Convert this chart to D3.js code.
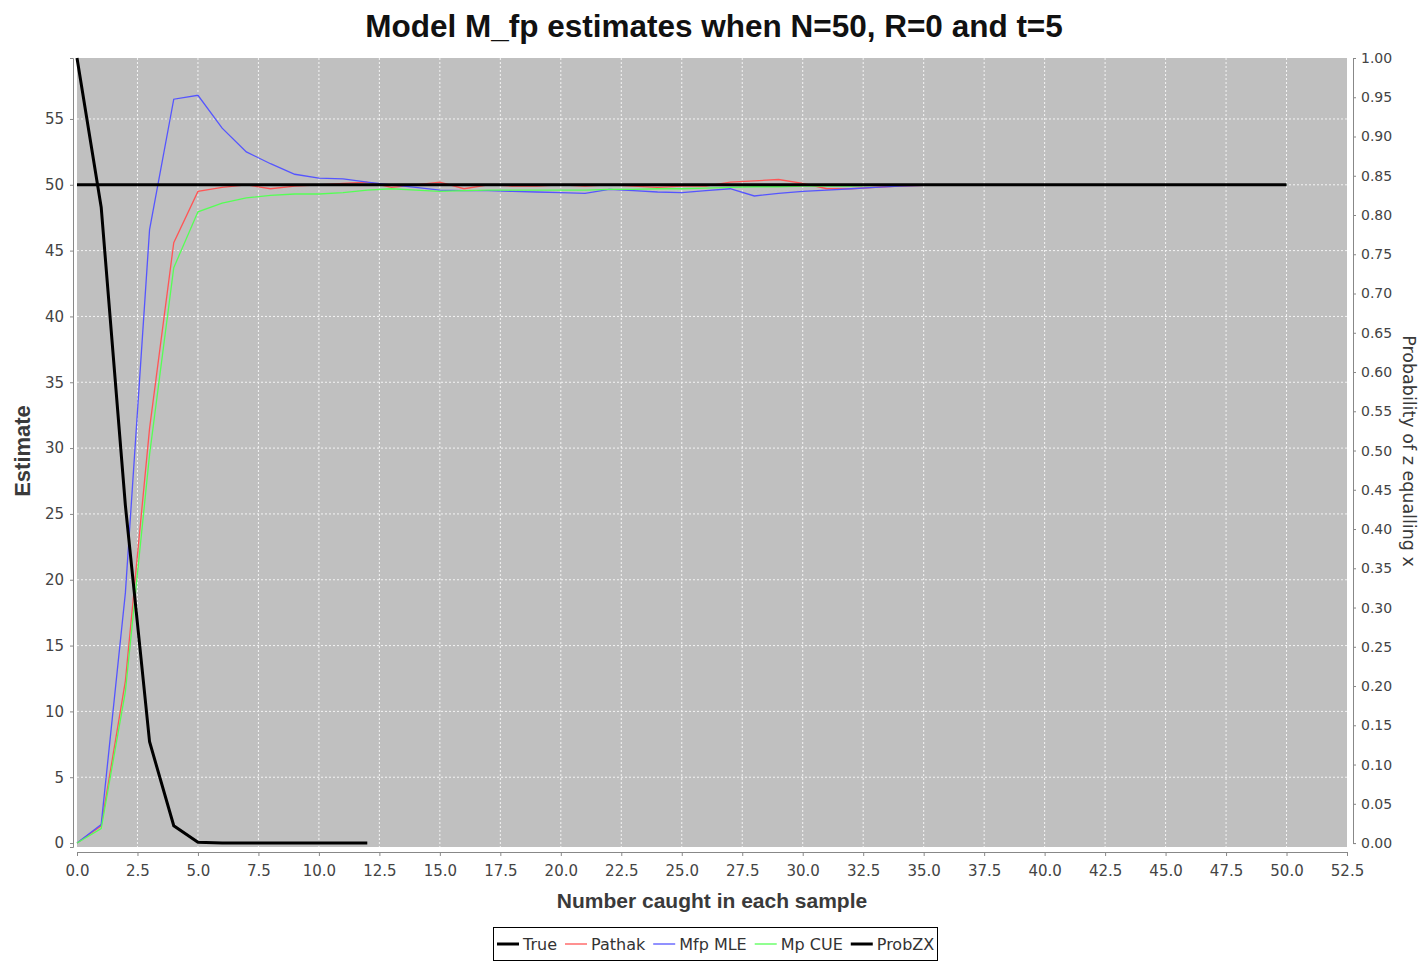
<!DOCTYPE html>
<html>
<head>
<meta charset="utf-8">
<script src="https://d3js.org/d3.v7.min.js"></script>
<style>
  body { margin: 0; background: #fff; }
  text { font-family: "DejaVu Sans", sans-serif; }
</style>
</head>
<body>
<div id="chart"></div>
<script>
// sample sizes 0..50
let xs = d3.range(0, 51);

let trueX = [0, 50];
let trueY = [50, 50];

let pathak = [0, 1.3, 12.3, 31.5, 45.6, 49.5, 49.8, 50.0, 49.7, 49.9,
    50.0, 50.1, 50.2, 49.8, 50.0, 50.2, 49.7, 50.0, 49.9, 49.9,
    50.0, 49.9, 50.0, 49.9, 49.8, 49.9, 49.9, 50.2, 50.3, 50.4,
    50.1, 49.7, 49.7, 49.8, 49.9, 49.95, 50, 50, 50, 50,
    50, 50, 50, 50, 50, 50, 50, 50, 50, 50, 50];

let mfpMLE = [0, 1.4, 19.0, 46.6, 56.5, 56.8, 54.3, 52.5, 51.6, 50.8,
    50.5, 50.45, 50.2, 50.0, 49.8, 49.6, 49.55, 49.55, 49.5, 49.45,
    49.4, 49.35, 49.65, 49.55, 49.45, 49.4, 49.55, 49.7, 49.15, 49.35,
    49.5, 49.6, 49.7, 49.8, 49.9, 49.95, 50, 50, 50, 50,
    50, 50, 50, 50, 50, 50, 50, 50, 50, 50, 50];

let mpCUE = [0, 1.1, 11.5, 29.5, 43.7, 47.95, 48.6, 49.0, 49.2, 49.3,
    49.3, 49.4, 49.6, 49.7, 49.6, 49.5, 49.55, 49.6, 49.6, 49.6,
    49.6, 49.6, 49.65, 49.65, 49.7, 49.7, 49.75, 49.8, 49.85, 49.85,
    49.9, 49.9, 49.9, 49.95, 49.95, 50, 50, 50, 50, 50,
    50, 50, 50, 50, 50, 50, 50, 50, 50, 50, 50];

let probX = [0, 1, 2, 3, 4, 5, 6, 7, 8, 9, 10, 11, 12];
let probZX = [1.0, 0.81, 0.43, 0.129, 0.022, 0.001, 0, 0, 0, 0, 0, 0, 0];

let xTicks = d3.range(0, 52.6, 2.5);
let yTicks = d3.range(0, 56, 5);
let y2Ticks = d3.range(0, 1.001, 0.05);

let legendItems = [
    ["True", "#000", 3],
    ["Pathak", "#ff5555", 1.3],
    ["Mfp MLE", "#5555ff", 1.3],
    ["Mp CUE", "#55ff55", 1.3],
    ["ProbZX", "#000", 3]
];

let width = 1425, height = 962;
let plot = { left: 77, right: 1347, top: 58, bottom: 847 };

let svg = d3.select("#chart")
    .append("svg")
    .attr("width", width)
    .attr("height", height);

let x = d3.scaleLinear().domain([0, 52.5]).range([plot.left, plot.right]);
let y = d3.scaleLinear().domain([-0.3, 59.63]).range([plot.bottom, plot.top]);
let y2 = d3.scaleLinear().domain([0, 1]).range([y(0), plot.top]);

// plot background
svg.append("rect")
    .attr("x", plot.left)
    .attr("y", plot.top)
    .attr("width", plot.right - plot.left)
    .attr("height", plot.bottom - plot.top)
    .attr("fill", "#c0c0c0");

// gridlines
svg.append("g").selectAll("line").data(xTicks.filter(d => d > 0 && d < 52.5))
    .enter().append("line")
    .attr("x1", d => x(d)).attr("x2", d => x(d))
    .attr("y1", plot.top).attr("y2", plot.bottom)
    .attr("stroke", "#f4f4f4").attr("stroke-width", 1)
    .attr("stroke-dasharray", "2,2");

svg.append("g").selectAll("line").data(yTicks.filter(d => d > 0))
    .enter().append("line")
    .attr("x1", plot.left).attr("x2", plot.right)
    .attr("y1", d => y(d)).attr("y2", d => y(d))
    .attr("stroke", "#f4f4f4").attr("stroke-width", 1)
    .attr("stroke-dasharray", "2,2");

// axes
let xAxis = svg.append("g")
    .attr("transform", `translate(0, ${plot.bottom + 5})`)
    .call(d3.axisBottom(x).tickValues(xTicks).tickFormat(d3.format(".1f")).tickSize(4).tickPadding(9));

let yAxis = svg.append("g")
    .attr("transform", `translate(${plot.left - 4}, 0)`)
    .call(d3.axisLeft(y).tickValues(yTicks).tickSize(3).tickPadding(6));

let y2Axis = svg.append("g")
    .attr("transform", `translate(${plot.right + 6}, 0)`)
    .call(d3.axisRight(y2).tickValues(y2Ticks).tickFormat(d3.format(".2f")).tickSize(3).tickPadding(5));

[xAxis, yAxis, y2Axis].forEach(a => {
    a.select(".domain").attr("stroke", "#888");
    a.selectAll(".tick line").attr("stroke", "#888");
    a.selectAll(".tick text").attr("fill", "#444").style("font-size", "15px");
});
y2Axis.selectAll(".tick text").style("font-size", "14px");

// series
let line = d3.line().x(d => x(d[0])).y(d => y(d[1]));
let line2 = d3.line().x(d => x(d[0])).y(d => y2(d[1]));

let series = [
    [d3.zip(xs, pathak), "#ff5555", 1.3],
    [d3.zip(xs, mfpMLE), "#5555ff", 1.3],
    [d3.zip(xs, mpCUE), "#55ff55", 1.3],
    [d3.zip(trueX, trueY), "#000", 3]
];

series.forEach(s => {
    svg.append("path")
        .datum(s[0])
        .attr("d", line)
        .attr("fill", "none")
        .attr("stroke", s[1])
        .attr("stroke-width", s[2]);
});

svg.append("path")
    .datum(d3.zip(probX, probZX))
    .attr("d", line2)
    .attr("fill", "none")
    .attr("stroke", "#000")
    .attr("stroke-width", 3);

// titles
svg.append("text")
    .attr("x", 714).attr("y", 37)
    .style("text-anchor", "middle")
    .style("font-family", "Liberation Sans, sans-serif")
    .style("font-weight", "bold")
    .style("font-size", "31.5px")
    .attr("fill", "#111")
    .text("Model M_fp estimates when N=50, R=0 and t=5");

svg.append("text")
    .attr("x", 712).attr("y", 908)
    .style("text-anchor", "middle")
    .style("font-family", "Liberation Sans, sans-serif")
    .style("font-weight", "bold")
    .style("font-size", "21px")
    .attr("fill", "#3a3a3a")
    .text("Number caught in each sample");

svg.append("text")
    .attr("transform", `translate(30, 451)rotate(-90)`)
    .style("text-anchor", "middle")
    .style("font-family", "Liberation Sans, sans-serif")
    .style("font-weight", "bold")
    .style("font-size", "22px")
    .attr("fill", "#3a3a3a")
    .text("Estimate");

svg.append("text")
    .attr("transform", `translate(1403, 451)rotate(90)`)
    .style("text-anchor", "middle")
    .style("font-size", "17.5px")
    .attr("fill", "#3a3a3a")
    .text("Probability of z equalling x");

// legend
let legend = svg.append("g");
legend.append("rect")
    .attr("x", 493.5).attr("y", 927.5)
    .attr("width", 444).attr("height", 33)
    .attr("fill", "#fff").attr("stroke", "#000");

let lx = 497;
legendItems.forEach(item => {
    legend.append("line")
        .attr("x1", lx).attr("x2", lx + 22)
        .attr("y1", 944).attr("y2", 944)
        .attr("stroke", item[1]).attr("stroke-width", item[2]);
    let t = legend.append("text")
        .attr("x", lx + 26).attr("y", 950)
        .style("font-size", "16px")
        .attr("fill", "#333")
        .text(item[0]);
    lx += 26 + t.node().getComputedTextLength() + 8;
});
</script>
</body>
</html>
